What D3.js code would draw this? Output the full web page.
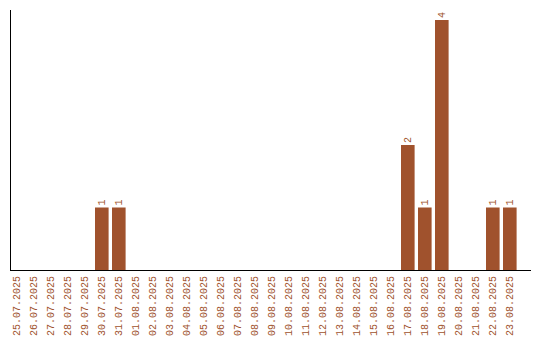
<!DOCTYPE html>
<html>
<head>
<meta charset="utf-8">
<script src="https://cdn.jsdelivr.net/npm/d3@7"></script>
<style>
  body { margin: 0; background: #fff; }
  text { font-family: "Liberation Mono", "Courier New", monospace; font-size: 10px; }
</style>
</head>
<body>
<div class="chart"></div>
<script>
var dates = ["25.07.2025", "26.07.2025", "27.07.2025", "28.07.2025", "29.07.2025",
  "30.07.2025", "31.07.2025", "01.08.2025", "02.08.2025", "03.08.2025",
  "04.08.2025", "05.08.2025", "06.08.2025", "07.08.2025", "08.08.2025",
  "09.08.2025", "10.08.2025", "11.08.2025", "12.08.2025", "13.08.2025",
  "14.08.2025", "15.08.2025", "16.08.2025", "17.08.2025", "18.08.2025",
  "19.08.2025", "20.08.2025", "21.08.2025", "22.08.2025", "23.08.2025"];
var counts = [0, 0, 0, 0, 0, 1, 1, 0, 0, 0,
  0, 0, 0, 0, 0, 0, 0, 0, 0, 0,
  0, 0, 0, 2, 1, 4, 0, 0, 1, 1];

var svgWidth = 540;
var svgHeight = 340;
var color = "#a0522d";

var data = dates.map(function (d, i) {
  return { date: d, value: counts[i] };
});

var svg = d3.select(".chart")
  .append("svg")
  .attr("width", svgWidth)
  .attr("height", svgHeight);

var x = d3.scaleBand()
  .domain(dates)
  .range([10, 516.6])
  .paddingInner(0.2)
  .paddingOuter(0)
  .align(0);

var y = d3.scaleLinear().domain([0, 4]).range([270, 20]);

// bars
svg.append("g")
  .selectAll("rect")
  .data(data.filter(function (d) { return d.value > 0; }))
  .join("rect")
  .attr("x", function (d) { return x(d.date); })
  .attr("y", function (d) { return y(d.value); })
  .attr("width", x.bandwidth())
  .attr("height", function (d) { return y(0) - y(d.value); })
  .attr("fill", color);

// value labels
svg.append("g")
  .selectAll("text")
  .data(data.filter(function (d) { return d.value > 0; }))
  .join("text")
  .attr("transform", function (d) {
    return "translate(" + (x(d.date) + x.bandwidth() / 2) + "," + (y(d.value) - 2) + ") rotate(-90)";
  })
  .attr("dy", "0.35em")
  .attr("text-anchor", "start")
  .attr("fill", color)
  .text(function (d) { return d.value; });

// axes lines
svg.append("line")
  .attr("x1", 10.5).attr("x2", 10.5)
  .attr("y1", 10).attr("y2", 270.5)
  .attr("stroke", "#000");
svg.append("line")
  .attr("x1", 10).attr("x2", 531)
  .attr("y1", 270.5).attr("y2", 270.5)
  .attr("stroke", "#000");

// date labels
svg.append("g")
  .selectAll("text")
  .data(dates)
  .join("text")
  .attr("transform", function (d) {
    return "translate(" + (x(d) + x.bandwidth() / 2) + ",276) rotate(-90)";
  })
  .attr("dy", "0.35em")
  .attr("text-anchor", "end")
  .attr("fill", color)
  .text(function (d) { return d; });
</script>
</body>
</html>
